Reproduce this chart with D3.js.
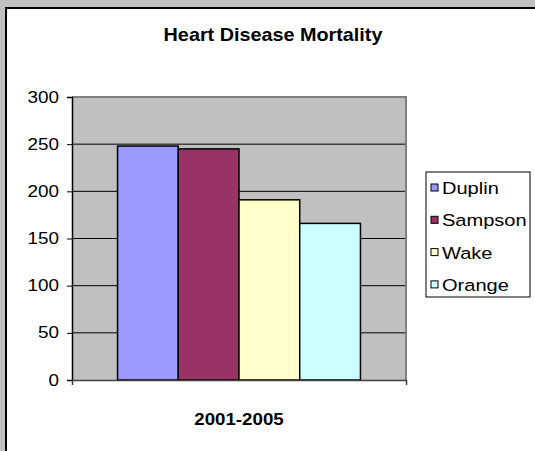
<!DOCTYPE html>
<html>
<head>
<meta charset="utf-8">
<script src="https://cdn.jsdelivr.net/npm/d3@7"></script>
<style>
  body { margin: 0; background: #c0c0c0; }
  svg { display: block; font-family: "Liberation Sans", Arial, sans-serif; }
</style>
</head>
<body>
<div id="chart"></div>
<script>
// data
const categories = ["2001-2005"];
const seriesNames = ["Duplin", "Sampson", "Wake", "Orange"];
const seriesValues = [248, 245, 191, 166];
const yTickValues = [0, 50, 100, 150, 200, 250, 300];
const chartTitle = "Heart Disease Mortality";

const seriesColors = ["#9999ff", "#993366", "#ffffcc", "#ccffff"];

const width = 535, height = 451;
const plot = { left: 72, right: 406, top: 97, bottom: 380 };

// the original text is a bit wider than normal Arial, so stretch it sideways
function stretch(sel, k) {
    sel.each(function () {
        const t = d3.select(this);
        const x = +t.attr("x") || 0;
        t.attr("x", x / k).attr("transform", `scale(${k},1)`);
    });
}

const svg = d3.select("#chart")
    .append("svg")
    .attr("width", width)
    .attr("height", height);

// chart area (white with black border)
svg.append("rect")
    .attr("x", 6).attr("y", 8)
    .attr("width", 600).attr("height", 500)
    .attr("fill", "#fff")
    .attr("stroke", "#000")
    .attr("stroke-width", 2);

svg.append("text")
    .attr("x", 273).attr("y", 41)
    .attr("text-anchor", "middle")
    .attr("font-size", 18)
    .attr("font-weight", "bold")
    .text(chartTitle)
    .call(stretch, 1.1);

//scales
const x0 = d3.scaleBand()
    .domain(categories)
    .range([plot.left, plot.right])
    .paddingInner(0)
    .paddingOuter(0.1875);

const x1 = d3.scaleBand()
    .domain(seriesNames)
    .range([0, x0.bandwidth()]);

const y = d3.scaleLinear()
    .domain([0, 300])
    .range([plot.bottom, plot.top]);

const color = d3.scaleOrdinal().domain(seriesNames).range(seriesColors);

// plot background
svg.append("rect")
    .attr("x", plot.left).attr("y", plot.top)
    .attr("width", plot.right - plot.left)
    .attr("height", plot.bottom - plot.top)
    .attr("fill", "#c0c0c0");

// gridlines
svg.append("g")
    .selectAll("line")
    .data(yTickValues.filter(d => d > 0 && d < 300))
    .join("line")
    .attr("x1", plot.left).attr("x2", plot.right)
    .attr("y1", d => y(d)).attr("y2", d => y(d))
    .attr("stroke", "#000")
    .attr("stroke-width", 1);

// plot border
svg.append("path")
    .attr("d", `M${plot.left},${plot.top}H${plot.right}V${plot.bottom}`)
    .attr("fill", "none")
    .attr("stroke", "#808080")
    .attr("stroke-width", 2);

// bars
const groups = svg.append("g")
    .selectAll("g")
    .data(categories)
    .join("g")
    .attr("transform", d => `translate(${x0(d)},0)`);

groups.selectAll("rect")
    .data(() => seriesNames.map((name, i) => ({ name, value: seriesValues[i] })))
    .join("rect")
    .attr("x", d => x1(d.name))
    .attr("y", d => y(d.value))
    .attr("width", x1.bandwidth())
    .attr("height", d => y(0) - y(d.value))
    .attr("fill", d => color(d.name))
    .attr("stroke", "#000")
    .attr("stroke-width", 1.5);

//Axis
const yAxis = svg.append("g")
    .attr("transform", `translate(${plot.left},0)`)
    .call(d3.axisLeft(y).tickValues(yTickValues).tickSize(5).tickPadding(8));
yAxis.select(".domain").attr("stroke", "#000").attr("stroke-width", 1.5);
yAxis.selectAll(".tick line").attr("stroke", "#000");
yAxis.selectAll("text")
    .attr("font-size", 16)
    .attr("font-family", "Liberation Sans, Arial, sans-serif")
    .attr("fill", "#000")
    .call(stretch, 1.18);

const xAxis = svg.append("g")
    .attr("transform", `translate(0,${plot.bottom})`)
    .call(d3.axisBottom(d3.scaleLinear().domain([0, 1]).range([plot.left, plot.right]))
        .tickValues([0, 1]).tickSize(5).tickFormat(""));
xAxis.select(".domain").attr("stroke", "#404040").attr("stroke-width", 1.5);
xAxis.selectAll(".tick line").attr("stroke", "#404040");

svg.append("text")
    .attr("x", x0(categories[0]) + x0.bandwidth() / 2)
    .attr("y", 425)
    .attr("text-anchor", "middle")
    .attr("font-size", 17)
    .attr("font-weight", "bold")
    .text(categories[0])
    .call(stretch, 1.1);

// legend
const legend = svg.append("g").attr("transform", "translate(426,172)");
legend.append("rect")
    .attr("width", 104).attr("height", 125)
    .attr("fill", "#fff")
    .attr("stroke", "#000")
    .attr("stroke-width", 1);

const items = legend.selectAll("g.item")
    .data(seriesNames)
    .join("g")
    .attr("class", "item")
    .attr("transform", (d, i) => `translate(5,${16 + i * 32.3})`);

items.append("rect")
    .attr("x", 0).attr("y", -4)
    .attr("width", 7).attr("height", 7)
    .attr("fill", d => color(d))
    .attr("stroke", "#000")
    .attr("stroke-width", 1);

items.append("text")
    .attr("x", 11).attr("y", 6)
    .attr("font-size", 17)
    .text(d => d)
    .call(stretch, 1.18);
</script>
</body>
</html>
